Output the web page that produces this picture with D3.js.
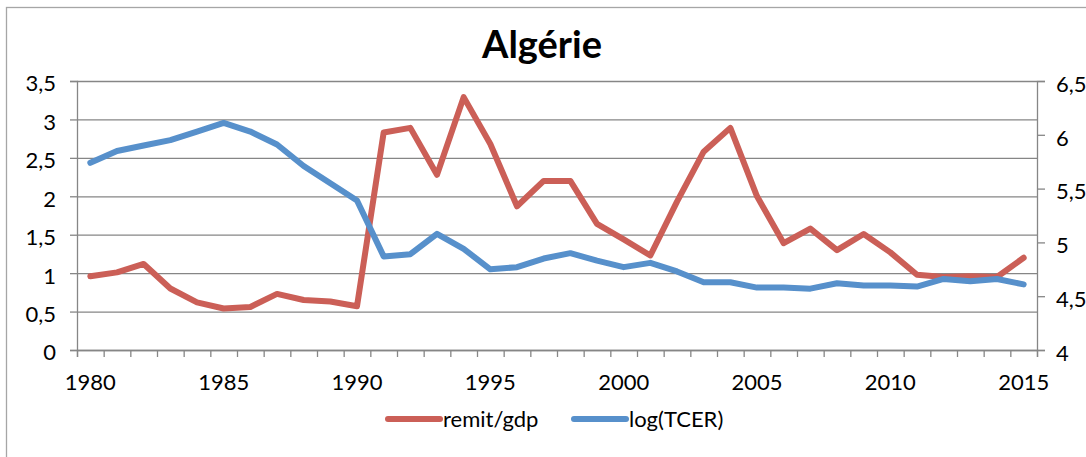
<!DOCTYPE html>
<html>
<head>
	<meta charset="utf-8">
	<script src="https://cdnjs.cloudflare.com/ajax/libs/d3/7.8.5/d3.min.js"></script>
	<style>
		body { margin: 0; background: #fff; }
		svg { display: block; font-family: Lato, "Open Sans", sans-serif; }
		.axis path, .axis line { stroke: #868686; stroke-width: 1.3; }
		.axis text { fill: #000; font-size: 22px; font-family: Lato, sans-serif; }
	</style>
</head>
<body>
	<svg width="1086" height="457"></svg>
	<script>
		// data
		let years = d3.range(1980, 2016);
		let remitGdp = [0.96, 1.01, 1.12, 0.80, 0.62, 0.54, 0.56, 0.73, 0.65, 0.63, 0.57,
			2.83, 2.89, 2.28, 3.29, 2.68, 1.87, 2.20, 2.20, 1.64, 1.44, 1.23, 1.93, 2.58, 2.89,
			2.00, 1.39, 1.58, 1.30, 1.51, 1.27, 0.98, 0.95, 0.96, 0.95, 1.20];
		let logTcer = [5.74, 5.85, 5.90, 5.95, 6.03, 6.11, 6.03, 5.91, 5.71, 5.55, 5.39,
			4.87, 4.89, 5.08, 4.94, 4.75, 4.77, 4.85, 4.90, 4.83, 4.77, 4.81, 4.73, 4.63, 4.63,
			4.58, 4.58, 4.57, 4.62, 4.60, 4.60, 4.59, 4.66, 4.64, 4.66, 4.61];
		let leftTicks = [0, 0.5, 1, 1.5, 2, 2.5, 3, 3.5];
		let rightTicks = [4, 4.5, 5, 5.5, 6, 6.5];
		let yearLabels = [1980, 1985, 1990, 1995, 2000, 2005, 2010, 2015];
		let seriesNames = ["remit/gdp", "log(TCER)"];
		let colors = ["#cb5f57", "#5790cb"];

		let svg = d3.select("svg"),
			plotLeft = 77, plotRight = 1037, plotTop = 81, plotBottom = 350;

		// comma decimals like the original
		let fmt = function(d) { return String(d).replace(".", ","); };

		// outer chart frame
		svg.append("rect")
			.attr("x", 6.5).attr("y", 7.5)
			.attr("width", 1100).attr("height", 470)
			.attr("fill", "none")
			.attr("stroke", "#a6a6a6")
			.attr("stroke-width", 1.3);

		// scales
		let x = d3.scaleBand().domain(years).range([plotLeft, plotRight]),
			xEdge = d3.scaleLinear().domain([0, years.length]).range([plotLeft, plotRight]),
			y = d3.scaleLinear().domain([0, 3.5]).range([plotBottom, plotTop]),
			y2 = d3.scaleLinear().domain([4, 6.5]).range([plotBottom, plotTop]);

		// gridlines
		svg.append("g")
			.attr("class", "axis grid")
			.attr("transform", "translate(" + plotLeft + ",0)")
			.call(d3.axisLeft(y).tickValues(leftTicks).tickSize(-(plotRight - plotLeft)).tickFormat(""))
			.call(g => g.select(".domain").remove());

		// left axis
		svg.append("g")
			.attr("class", "axis")
			.attr("transform", "translate(" + plotLeft + ",0)")
			.call(d3.axisLeft(y).tickValues(leftTicks).tickSize(7).tickPadding(14).tickFormat(fmt))
			.call(g => g.selectAll("text").attr("dy", "0.45em"));

		// right axis
		svg.append("g")
			.attr("class", "axis")
			.attr("transform", "translate(" + plotRight + ",0)")
			.call(d3.axisRight(y2).tickValues(rightTicks).tickSize(8).tickPadding(11).tickFormat(fmt))
			.call(g => g.selectAll("text").attr("dy", "0.47em"));

		// x axis: ticks between categories
		svg.append("g")
			.attr("class", "axis")
			.attr("transform", "translate(0," + plotBottom + ")")
			.call(d3.axisBottom(xEdge).tickValues(d3.range(years.length + 1)).tickSize(7).tickFormat(""));

		// x labels every 5 years
		svg.append("g")
			.attr("class", "axis")
			.attr("transform", "translate(0," + plotBottom + ")")
			.call(d3.axisBottom(x).tickValues(yearLabels).tickSize(0).tickPadding(24))
			.call(g => g.select(".domain").remove());

		// lines
		let line1 = d3.line()
			.x(function(d, i) { return x(years[i]) + x.bandwidth() / 2; })
			.y(function(d) { return y(d); });
		let line2 = d3.line()
			.x(function(d, i) { return x(years[i]) + x.bandwidth() / 2; })
			.y(function(d) { return y2(d); });

		svg.append("path")
			.datum(remitGdp)
			.attr("d", line1)
			.attr("fill", "none")
			.attr("stroke", colors[0])
			.attr("stroke-width", 6)
			.attr("stroke-linejoin", "round")
			.attr("stroke-linecap", "round");

		svg.append("path")
			.datum(logTcer)
			.attr("d", line2)
			.attr("fill", "none")
			.attr("stroke", colors[1])
			.attr("stroke-width", 6)
			.attr("stroke-linejoin", "round")
			.attr("stroke-linecap", "round");

		// title
		svg.append("text")
			.attr("x", 542)
			.attr("y", 58)
			.attr("text-anchor", "middle")
			.style("font", "bold 38px Lato, sans-serif")
			.text("Algérie");

		// legend
		let legendX = [388, 574];
		let legend = svg.append("g")
			.selectAll("g")
			.data(seriesNames)
			.enter()
			.append("g")
			.attr("transform", function(d, i) { return "translate(" + legendX[i] + ",419)"; });
		legend.append("line")
			.attr("x1", 0).attr("x2", 52)
			.attr("stroke", function(d, i) { return colors[i]; })
			.attr("stroke-width", 6)
			.attr("stroke-linecap", "round");
		legend.append("text")
			.attr("x", 55)
			.attr("y", 7.5)
			.style("font", "22px Lato, sans-serif")
			.text(function(d) { return d; });
	</script>
</body>
</html>
